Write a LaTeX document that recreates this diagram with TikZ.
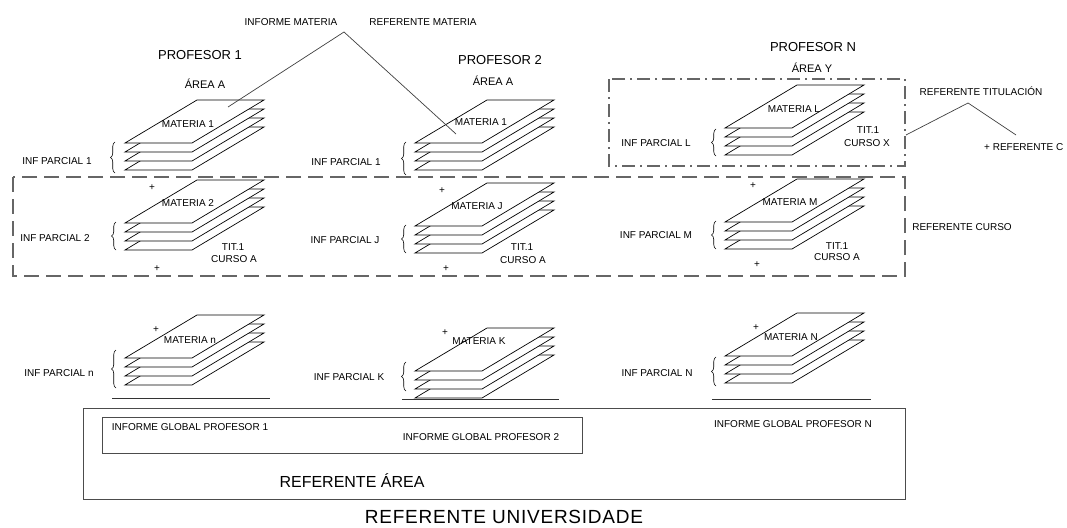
\documentclass[tikz,border=0pt]{standalone}
\usepackage{fontspec}
\setmainfont{Liberation Sans}
\usetikzlibrary{decorations.pathreplacing}
\newcommand{\sheetstack}[2]{%
  \foreach \k in {27,18,9,0}{%
    \filldraw[sheet] (#1,#2+\k) -- ++(67,0) -- ++(72,-43) -- ++(-67,0) -- cycle;
  }%
}
\begin{document}
\begin{tikzpicture}[x=1pt,y=-1pt,
  lbl/.style={font=\fontsize{10}{12}\selectfont, inner sep=0pt, text height=7.2pt, text depth=0pt},
  prof/.style={font=\fontsize{13}{15}\selectfont, inner sep=0pt, text height=9.3pt, text depth=0pt},
  area/.style={font=\fontsize{11}{13}\selectfont, inner sep=0pt, text height=7.9pt, text depth=0pt},
  big/.style={font=\fontsize{16}{18}\selectfont, inner sep=0pt, text height=11.5pt, text depth=0pt},
  huge/.style={font=\fontsize{19}{21}\selectfont\addfontfeature{LetterSpace=4}, inner sep=0pt, text height=13.6pt, text depth=0pt},
  sheet/.style={fill=white, draw=black, line width=0.7pt},
  brc/.style={draw=black, decorate, decoration={brace, amplitude=4.5pt}, line width=0.6pt},
  lead/.style={draw=black!75, line width=0.7pt},
  box/.style={draw=black!70, line width=1pt},
  dbox/.style={draw=black!60, line width=1.3pt, dash pattern=on 15pt off 7pt},
  ddbox/.style={draw=black!60, line width=1.3pt, dash pattern=on 13pt off 5pt on 2pt off 5pt},
  uline/.style={draw=black!80, line width=0.8pt},
]
\useasboundingbox[fill=white] (0,0) rectangle (1067,527);

% group boxes
\draw[ddbox] (609,79) rectangle (905,166);
\draw[dbox] (13,177) rectangle (905,276);
\draw[box] (83,408) rectangle (905,499);
\draw[box] (102,417) rectangle (582,453);

% stacks
\sheetstack{125}{143}
\sheetstack{415}{143}
\sheetstack{725}{128}
\sheetstack{125}{223}
\sheetstack{415}{226}
\sheetstack{725}{222}
\sheetstack{125}{358}
\sheetstack{415}{371}
\sheetstack{725}{356}

% braces
\draw[brc] (115,173) -- (115,142);
\draw[brc] (406,175) -- (406,142);
\draw[brc] (716,156) -- (716,129);
\draw[brc] (116,250) -- (116,222);
\draw[brc] (406,253) -- (406,225);
\draw[brc] (716,249) -- (716,221);
\draw[brc] (116,388) -- (116,350);
\draw[brc] (406,391) -- (406,362);
\draw[brc] (716,386) -- (716,357);

% underlines
\draw[uline] (112,398) -- (270,398);
\draw[uline] (402,399) -- (559,399);
\draw[uline] (712,399) -- (871,399);

% top labels
\node[lbl] (im) at (291,22) {INFORME MATERIA};
\node[lbl] (rm) at (423,22) {REFERENTE MATERIA};
\coordinate (apex) at (344,32);
\coordinate (m1in) at (228,107);
\coordinate (m2in) at (456,134);
\draw[lead] (m1in) -- (apex) -- (m2in);

\node[prof] (p1) at (200,55) {PROFESOR 1};
\node[area] (a1) at (205,85) {ÁREA A};
\node[prof] (p2) at (500,60) {PROFESOR 2};
\node[area] (a2) at (493,82) {ÁREA A};
\node[prof] (pn) at (813,47) {PROFESOR N};
\node[area] (an) at (812,69) {ÁREA Y};

\node[lbl] (rt) at (981,92) {REFERENTE TITULACIÓN};
\coordinate (rtl) at (906,135);
\coordinate (rta) at (968,103);
\coordinate (rtr) at (1016,135);
\draw[lead] (rtl) -- (rta) -- (rtr);
\node[lbl, anchor=west] (rc2) at (984,147) {+ REFERENTE C};
\node[lbl] (rc) at (962,227) {REFERENTE CURSO};

% materia labels
\node[lbl] (m11) at (188,124) {MATERIA 1};
\node[lbl] (m21) at (481,122) {MATERIA 1};
\node[lbl] (m31) at (794,109) {MATERIA L};
\node[lbl] (m12) at (188,203) {MATERIA 2};
\node[lbl] (m22) at (477,206) {MATERIA J};
\node[lbl] (m32) at (790,202) {MATERIA M};
\node[lbl] (m13) at (190,340) {MATERIA n};
\node[lbl] (m23) at (479,341) {MATERIA K};
\node[lbl] (m33) at (791,337) {MATERIA N};

% inf parcial labels
\node[lbl] (i11) at (57,161) {INF PARCIAL 1};
\node[lbl] (i21) at (346,162) {INF PARCIAL 1};
\node[lbl] (i31) at (656,143) {INF PARCIAL L};
\node[lbl] (i12) at (55,238) {INF PARCIAL 2};
\node[lbl] (i22) at (345,240) {INF PARCIAL J};
\node[lbl] (i32) at (656,235) {INF PARCIAL M};
\node[lbl] (i13) at (59,373) {INF PARCIAL n};
\node[lbl] (i23) at (349,377) {INF PARCIAL K};
\node[lbl] (i33) at (657,373) {INF PARCIAL N};

% tit / curso
\node[lbl] (t31) at (868,130) {TIT.1};
\node[lbl] (c31) at (867,143) {CURSO X};
\node[lbl] (t12) at (233,247) {TIT.1};
\node[lbl] (c12) at (234,259) {CURSO A};
\node[lbl] (t22) at (522,247) {TIT.1};
\node[lbl] (c22) at (523,260) {CURSO A};
\node[lbl] (t32) at (837,246) {TIT.1};
\node[lbl] (c32) at (837,257) {CURSO A};

% plus marks
\node[lbl] (pl1) at (152,187) {+};
\node[lbl] (pl2) at (157,268) {+};
\node[lbl] (pl3) at (442,190) {+};
\node[lbl] (pl4) at (446,268) {+};
\node[lbl] (pl5) at (753,185) {+};
\node[lbl] (pl6) at (757,264) {+};
\node[lbl] (pl7) at (156,329) {+};
\node[lbl] (pl8) at (445,332) {+};
\node[lbl] (pl9) at (756,327) {+};

% bottom
\node[lbl] (g1) at (190,427) {INFORME GLOBAL PROFESOR 1};
\node[lbl] (g2) at (481,437) {INFORME GLOBAL PROFESOR 2};
\node[lbl] (gn) at (793,424) {INFORME GLOBAL PROFESOR N};
\node[big] (ra) at (352,482) {REFERENTE ÁREA};
\node[huge] (ru) at (504,517) {REFERENTE UNIVERSIDADE};
\end{tikzpicture}
\end{document}
